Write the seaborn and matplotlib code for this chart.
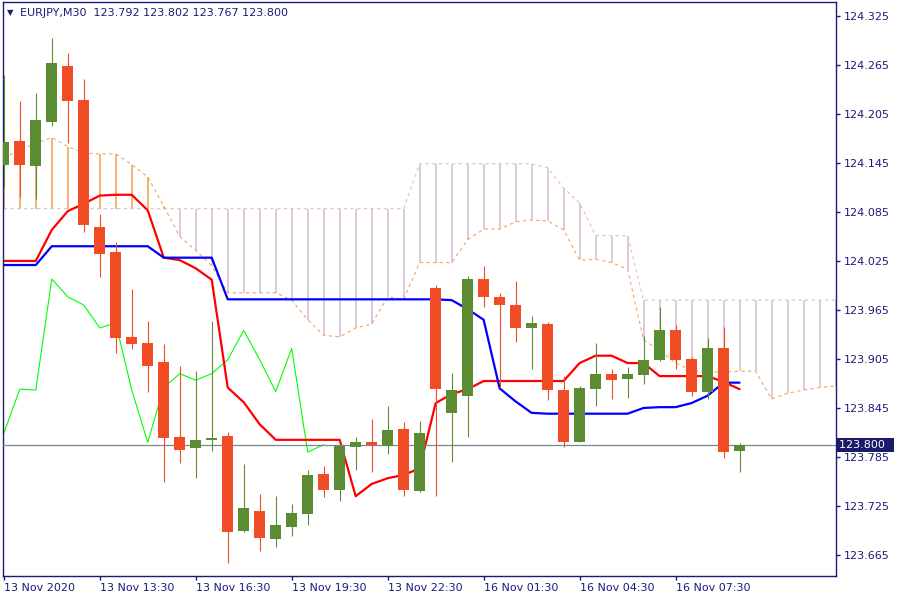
import numpy as np
import pandas as pd
import matplotlib
matplotlib.use("Agg")
import matplotlib.pyplot as plt
import matplotlib.transforms as mtransforms
import seaborn as sns

# EURJPY M30 candles, 13 Nov 2020 10:30 .. 16 Nov 2020 09:30
opens = [124.143, 124.172, 124.141, 124.195, 124.264, 124.222, 124.067, 124.036, 123.932, 123.925,
         123.901, 123.810, 123.796, 123.806, 123.811, 123.694, 123.719, 123.685, 123.699, 123.715,
         123.764, 123.745, 123.797, 123.803, 123.798, 123.819, 123.743, 123.992, 123.839, 123.860,
         124.003, 123.981, 123.971, 123.943, 123.948, 123.867, 123.803, 123.868, 123.887, 123.880,
         123.885, 123.904, 123.940, 123.905, 123.865, 123.918, 123.792]
highs = [124.253, 124.221, 124.231, 124.298, 124.280, 124.248, 124.083, 124.048, 123.991, 123.952,
         123.923, 123.896, 123.890, 123.952, 123.816, 123.776, 123.740, 123.737, 123.727, 123.769,
         123.774, 123.800, 123.810, 123.832, 123.847, 123.828, 123.829, 123.996, 123.888, 124.007,
         124.019, 123.986, 124.001, 123.958, 123.950, 123.884, 123.872, 123.925, 123.893, 123.895,
         123.933, 123.969, 123.947, 123.907, 123.931, 123.944, 123.802]
lows = [124.116, 124.103, 124.101, 124.190, 124.169, 124.061, 124.005, 123.912, 123.917, 123.865,
        123.754, 123.778, 123.759, 123.792, 123.655, 123.693, 123.670, 123.675, 123.688, 123.702,
        123.736, 123.731, 123.769, 123.767, 123.789, 123.737, 123.742, 123.737, 123.779, 123.810,
        123.969, 123.869, 123.926, 123.893, 123.855, 123.797, 123.803, 123.847, 123.856, 123.857,
        123.874, 123.903, 123.893, 123.860, 123.856, 123.784, 123.767]
closes = [124.171, 124.143, 124.198, 124.267, 124.221, 124.069, 124.034, 123.931, 123.923, 123.896,
          123.808, 123.794, 123.806, 123.808, 123.693, 123.723, 123.686, 123.702, 123.716, 123.763,
          123.745, 123.798, 123.803, 123.800, 123.818, 123.745, 123.814, 123.868, 123.867, 124.003,
          123.981, 123.971, 123.943, 123.949, 123.867, 123.803, 123.870, 123.887, 123.879, 123.887,
          123.904, 123.940, 123.904, 123.865, 123.918, 123.791, 123.800]

# Ichimoku lines
tenkan = [124.025, 124.025, 124.025, 124.063, 124.086, 124.095, 124.105, 124.106, 124.106, 124.087,
          124.029, 124.026, 124.016, 124.002, 123.870, 123.852, 123.825, 123.806, 123.806, 123.806,
          123.806, 123.806, 123.737, 123.752, 123.759, 123.763, 123.771, 123.851, 123.862, 123.868,
          123.878, 123.878, 123.878, 123.878, 123.878, 123.878, 123.900, 123.909, 123.909, 123.900,
          123.900, 123.884, 123.884, 123.884, 123.884, 123.877, 123.868]
kijun = [124.020, 124.020, 124.020, 124.043, 124.043, 124.043, 124.043, 124.043, 124.043, 124.043,
         124.029, 124.029, 124.029, 124.029, 123.978, 123.978, 123.978, 123.978, 123.978, 123.978,
         123.978, 123.978, 123.978, 123.978, 123.978, 123.978, 123.978, 123.978, 123.977, 123.966,
         123.953, 123.869, 123.853, 123.839, 123.838, 123.838, 123.838, 123.838, 123.838, 123.838,
         123.845, 123.846, 123.846, 123.851, 123.860, 123.876, 123.876]
span_a = [124.151, 124.161, 124.169, 124.176, 124.165, 124.157, 124.156, 124.156, 124.143, 124.128,
          124.092, 124.055, 124.038, 124.019, 123.986, 123.986, 123.986, 123.986, 123.977, 123.953,
          123.934, 123.932, 123.943, 123.948, 123.981, 123.978, 124.023, 124.023, 124.023, 124.051,
          124.064, 124.064, 124.073, 124.075, 124.074, 124.063, 124.026, 124.027, 124.023, 124.015,
          123.928, 123.916, 123.900, 123.891, 123.889, 123.889, 123.890, 123.890, 123.856, 123.863,
          123.867, 123.870, 123.872]
span_b = [124.089] * 26 + [124.144] * 8 + [124.139, 124.114, 124.096, 124.056, 124.056, 124.056] + [123.977] * 13

tick_pos = [0, 6, 12, 18, 24, 30, 36, 42]
tick_labels = ["13 Nov 2020", "13 Nov 13:30", "13 Nov 16:30", "13 Nov 19:30",
               "13 Nov 22:30", "16 Nov 01:30", "16 Nov 04:30", "16 Nov 07:30"]
price_ticks = [124.325, 124.265, 124.205, 124.145, 124.085, 124.025,
               123.965, 123.905, 123.845, 123.785, 123.725, 123.665]
last_price = 123.800

navy = "#1b1b78"
bull = "#5b8c32"
bear = "#f24c27"

sns.set_style("white")
plt.rcParams["font.family"] = ["DejaVu Sans"]

df = pd.DataFrame({"open": opens, "high": highs, "low": lows, "close": closes,
                   "tenkan": tenkan, "kijun": kijun})
df["bar"] = np.arange(len(df))
cloud = pd.DataFrame({"bar": np.arange(len(span_a)), "a": span_a, "b": span_b})
chikou = pd.DataFrame({"bar": np.arange(len(closes) - 26), "c": closes[26:]})

fig = plt.figure(figsize=(9, 6), dpi=100)
ax = fig.add_axes([3 / 900, 24 / 600, 833 / 900, 574 / 600])

# cloud hatching + span lines
hcol = np.where(cloud["a"] >= cloud["b"], "#f4a460", "#d8bfd8")
ax.vlines(cloud["bar"], cloud[["a", "b"]].min(axis=1), cloud[["a", "b"]].max(axis=1),
          colors=hcol, lw=1.2, zorder=1)
sns.lineplot(data=cloud, x="bar", y="a", color="#f4a460", lw=0.8, ls=(0, (3, 3)),
             estimator=None, sort=False, ax=ax, zorder=1.5)
sns.lineplot(data=cloud, x="bar", y="b", color="#d8bfd8", lw=0.8, ls=(0, (3, 3)),
             estimator=None, sort=False, ax=ax, zorder=1.5)

sns.lineplot(data=chikou, x="bar", y="c", color="#00ff00", lw=0.8,
             estimator=None, sort=False, ax=ax, zorder=2)
sns.lineplot(data=df, x="bar", y="tenkan", color="#ff0000", lw=1.6,
             estimator=None, sort=False, ax=ax, zorder=2.5)
sns.lineplot(data=df, x="bar", y="kijun", color="#0000ff", lw=1.6,
             estimator=None, sort=False, ax=ax, zorder=2.5)

ax.axhline(last_price, color="#7d8793", lw=0.9, zorder=2.8)

# candles
up = df["close"] >= df["open"]
ccol = np.where(up, bull, bear)
ax.vlines(df["bar"], df["low"], df["high"], colors=ccol, lw=0.8, zorder=3)
body_lo = df[["open", "close"]].min(axis=1)
body_h = (df["close"] - df["open"]).abs().clip(lower=0.0009)
ax.bar(df["bar"], body_h, bottom=body_lo, width=0.69, color=ccol, lw=0, zorder=3.5)

ax.set_xlim(-0.05, 52.03)
ax.set_ylim(123.6393, 124.342)
ax.set_xlabel("")
ax.set_ylabel("")

ax.yaxis.tick_right()
ax.set_yticks(price_ticks)
ax.set_yticklabels([f"{v:.3f}" for v in price_ticks])
ax.set_xticks(tick_pos)
ax.set_xticklabels(tick_labels)
for lab in ax.get_xticklabels():
    lab.set_horizontalalignment("left")
ax.tick_params(axis="both", direction="out", length=3, width=1, color=navy,
               labelcolor=navy, labelsize=8)
ax.tick_params(axis="y", pad=2.5, right=True, left=False)
ax.tick_params(axis="x", pad=2, bottom=True)
for s in ax.spines.values():
    s.set_color(navy)
    s.set_linewidth(1)
    s.set_visible(True)

# last price tag on the axis
trans = mtransforms.offset_copy(
    mtransforms.blended_transform_factory(ax.transAxes, ax.transData),
    fig=fig, x=3, y=0, units="dots")
ax.text(1.0, last_price, "123.800  ", transform=trans, ha="left", va="center",
        fontsize=8, color="white", clip_on=False, zorder=10,
        bbox=dict(facecolor="#1b1b68", edgecolor="none", pad=1.5))

fig.text(7 / 900, 1 - 13 / 600, "▼", fontsize=6, color=navy, va="center")
fig.text(20 / 900, 1 - 13 / 600, "EURJPY,M30  123.792 123.802 123.767 123.800",
         fontsize=8, color=navy, va="center")

fig.savefig("out.png", dpi=100)
